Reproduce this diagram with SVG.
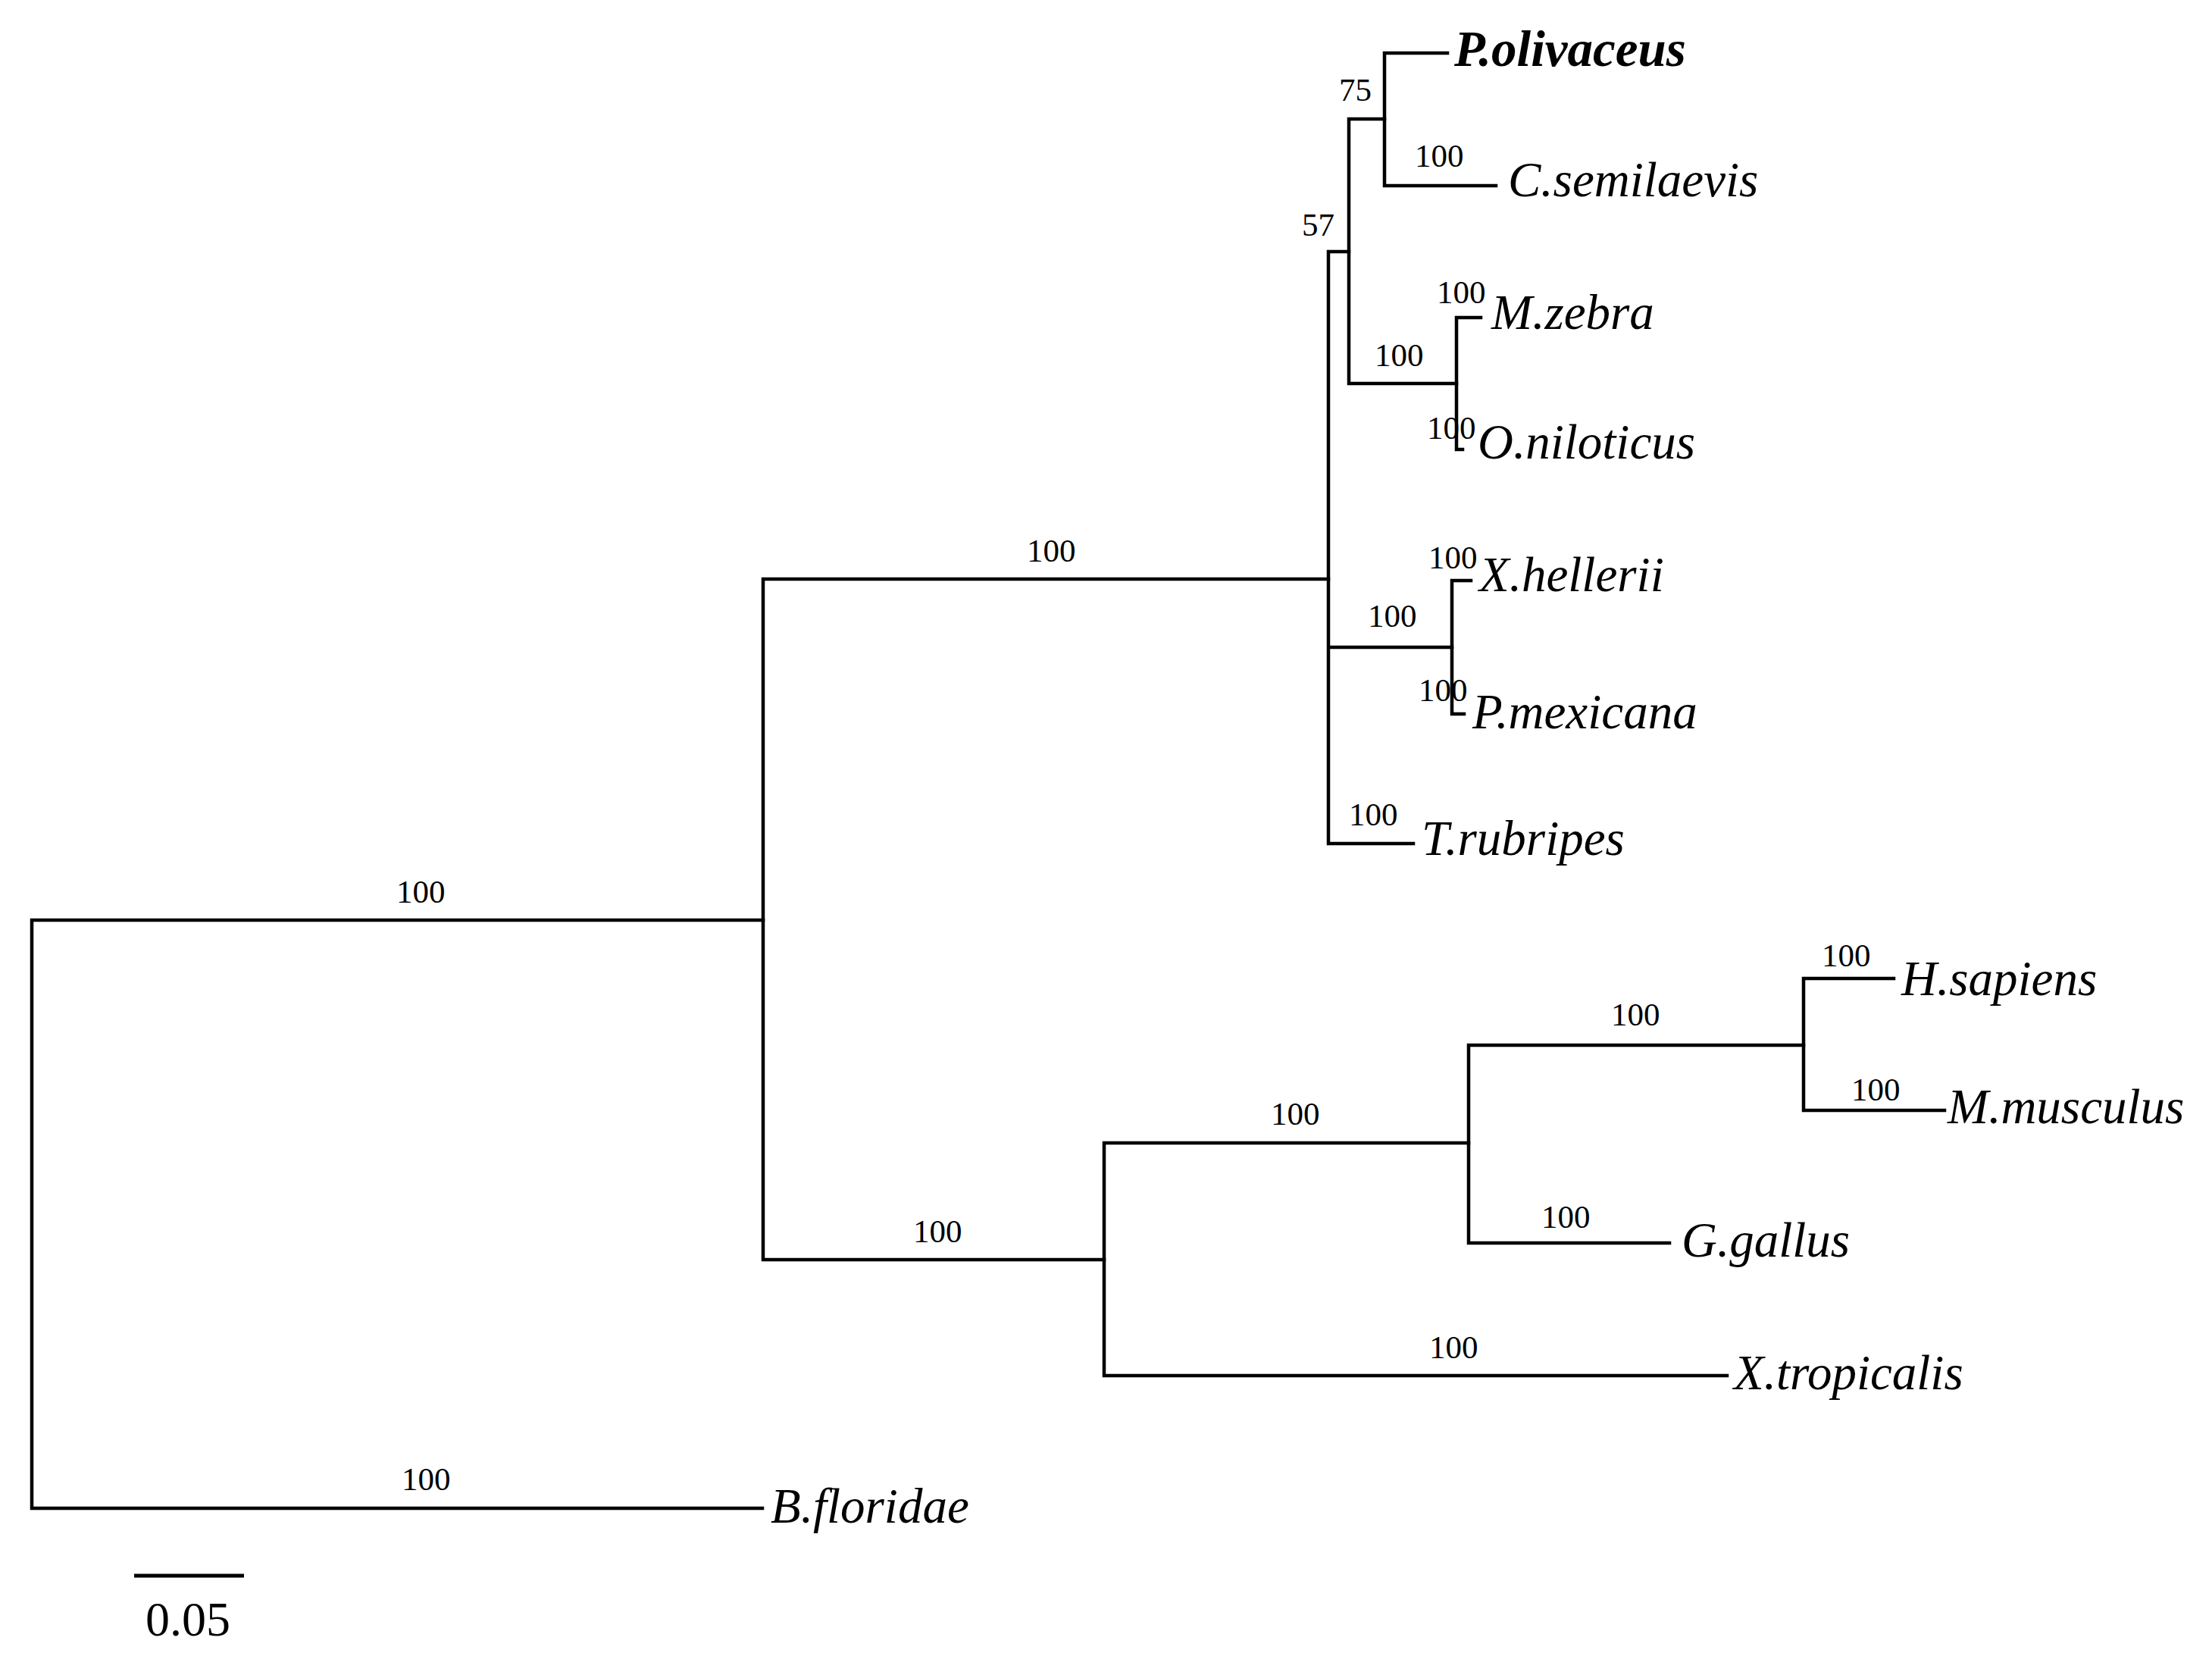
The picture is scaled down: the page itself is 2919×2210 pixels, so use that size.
<svg xmlns="http://www.w3.org/2000/svg" width="2919" height="2210" viewBox="0 0 2919 2210">
<style>
.br{stroke:#000;stroke-width:4.5;fill:none;stroke-linecap:square}
.tx{font-family:"Liberation Serif","Times New Roman",serif;font-style:italic;font-size:65px;fill:#000}
.bd{font-weight:bold;font-size:67px}
.bs{font-family:"Liberation Serif","Times New Roman",serif;font-size:43px;fill:#000}
.sc{font-family:"Liberation Serif","Times New Roman",serif;font-size:64px;fill:#000}
</style>
<rect width="2919" height="2210" fill="#fff"/>
<g id="connectors">
<path class="br" stroke-width="5" d="M42 1214V1990M42 1214H1007M42 1990H1006"/>
<path class="br" d="M1007 764V1662M1007 764H1753M1007 1662H1457"/>
<path class="br" d="M1753 332V1113M1753 332H1780M1753 854H1916M1753 1113H1865"/>
<path class="br" d="M1780 157V506M1780 157H1827M1780 506H1922"/>
<path class="br" d="M1827 70V245M1827 70H1910M1827 245H1974"/>
<path class="br" d="M1922 419V593M1922 419H1954M1922 593H1930"/>
<path class="br" d="M1916 766V942M1916 766H1941M1916 942H1932"/>
<path class="br" d="M1457 1508V1815M1457 1508H1938M1457 1815H2279"/>
<path class="br" d="M1938 1379V1640M1938 1379H2380M1938 1640H2203"/>
<path class="br" d="M2380 1291V1465M2380 1291H2499M2380 1465H2566"/>
</g>
<g id="bootstrap">
<text class="bs" x="1767" y="133">75</text>
<text class="bs" x="1867" y="220">100</text>
<text class="bs" x="1718" y="311">57</text>
<text class="bs" x="1896" y="400">100</text>
<text class="bs" x="1814" y="483">100</text>
<text class="bs" x="1883" y="579">100</text>
<text class="bs" x="1355" y="741">100</text>
<text class="bs" x="1885" y="750">100</text>
<text class="bs" x="1805" y="827">100</text>
<text class="bs" x="1872" y="925">100</text>
<text class="bs" x="1780" y="1089">100</text>
<text class="bs" x="523" y="1191">100</text>
<text class="bs" x="2404" y="1275">100</text>
<text class="bs" x="2126" y="1353">100</text>
<text class="bs" x="2443" y="1452">100</text>
<text class="bs" x="1677" y="1484">100</text>
<text class="bs" x="2034" y="1620">100</text>
<text class="bs" x="1205" y="1639">100</text>
<text class="bs" x="1886" y="1792">100</text>
<text class="bs" x="530" y="1966">100</text>
</g>
<g id="n-polivaceus"><text class="tx bd" x="1919" y="87">P.olivaceus</text></g>
<g id="n-csemilaevis"><text class="tx" x="1990" y="259">C.semilaevis</text></g>
<g id="n-mzebra"><text class="tx" x="1968" y="434">M.zebra</text></g>
<g id="n-oniloticus"><text class="tx" x="1950" y="605">O.niloticus</text></g>
<g id="n-xhellerii"><text class="tx" x="1952" y="780">X.hellerii</text></g>
<g id="n-pmexicana"><text class="tx" x="1943" y="961">P.mexicana</text></g>
<g id="n-trubripes"><text class="tx" x="1876" y="1128">T.rubripes</text></g>
<g id="n-hsapiens"><text class="tx" x="2509" y="1313">H.sapiens</text></g>
<g id="n-mmusculus"><text class="tx" x="2570" y="1482">M.musculus</text></g>
<g id="n-ggallus"><text class="tx" x="2219" y="1658">G.gallus</text></g>
<g id="n-xtropicalis"><text class="tx" x="2288" y="1833">X.tropicalis</text></g>
<g id="n-bfloridae"><text class="tx" x="1017" y="2009">B.floridae</text></g>
<g id="scalebar">
<line x1="177" y1="2079" x2="322" y2="2079" stroke="#000" stroke-width="5"/>
<text class="sc" x="192" y="2158">0.05</text>
</g>
</svg>
